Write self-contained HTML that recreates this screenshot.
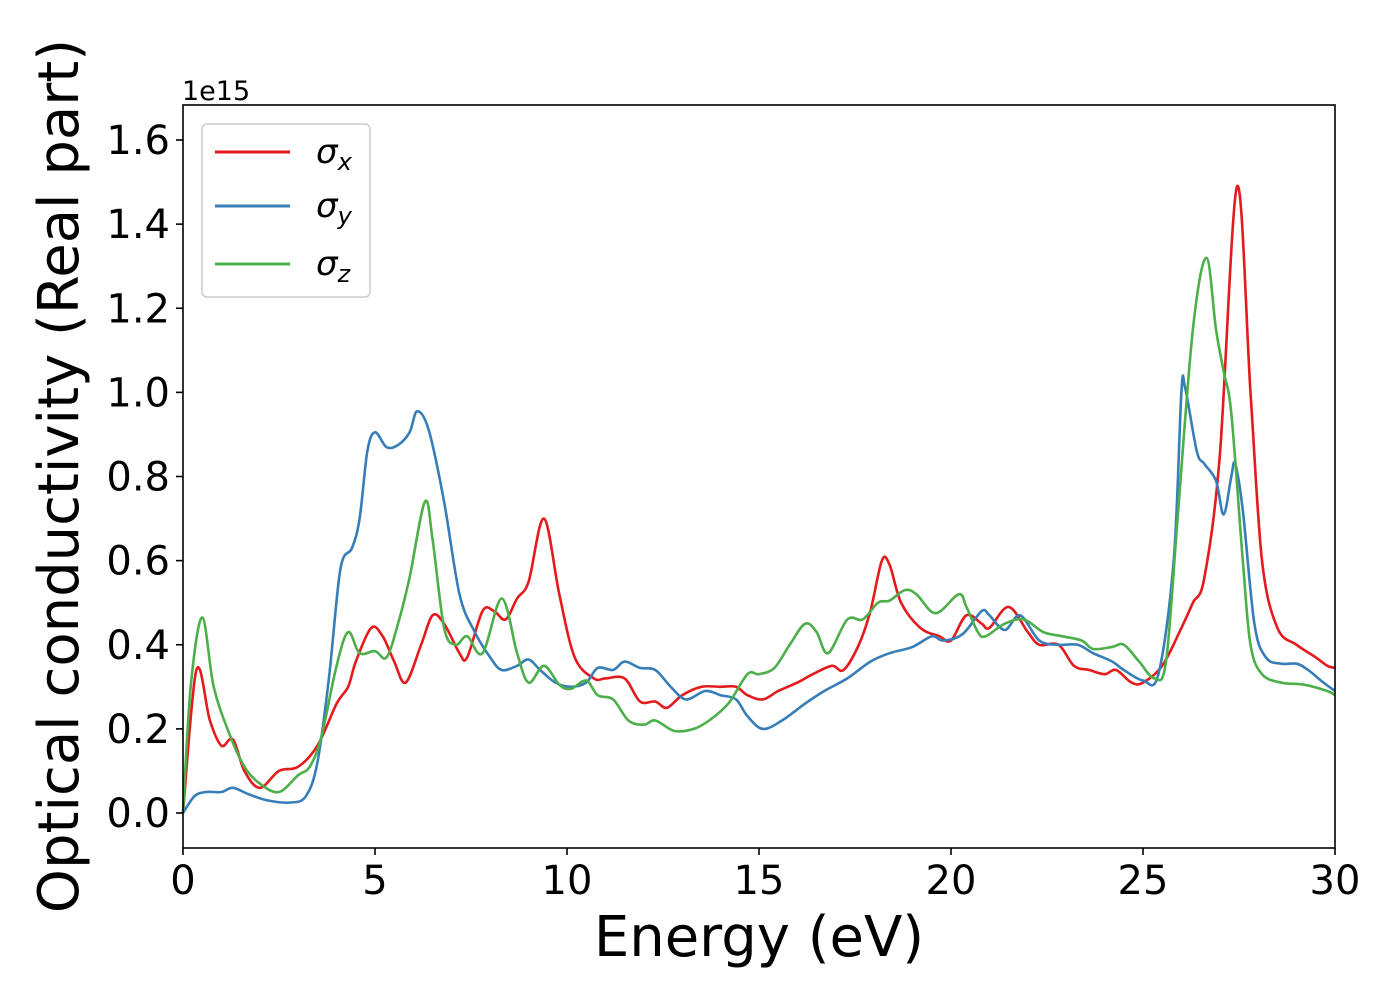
<!DOCTYPE html>
<html><head><meta charset="utf-8"><style>
html,body{margin:0;padding:0;background:#fff;}
svg text{font-family:"DejaVu Sans","Liberation Sans",sans-serif;fill:#000;}
</style></head><body>
<svg id="chart" width="1400" height="1000" viewBox="0 0 1400 1000" xmlns="http://www.w3.org/2000/svg">
<rect x="0" y="0" width="1400" height="1000" fill="#fff"/>
<g id="plot"></g>
<rect x="183" y="105" width="1152" height="743" fill="none" stroke="#000" stroke-width="1.6"/>
<g id="xticks"></g><g id="yticks"></g>
<text x="182" y="100" font-size="27">1e15</text>
<text x="759" y="956" font-size="56" text-anchor="middle">Energy (eV)</text>
<text transform="translate(78,476) rotate(-90)" font-size="56" text-anchor="middle">Optical conductivity (Real part)</text>
<g>
<rect x="202" y="124" width="168" height="173" rx="5" fill="#fff" fill-opacity="0.8" stroke="#ccc" stroke-width="1.5"/>
<g><line x1="215" y1="152" x2="290" y2="152" stroke="#e41a1c" stroke-width="3"/><text x="316" y="163" font-size="34" font-style="italic">σ<tspan font-size="24" dy="7">x</tspan></text></g>
<g><line x1="215" y1="206" x2="290" y2="206" stroke="#377eb8" stroke-width="3"/><text x="316" y="217" font-size="34" font-style="italic">σ<tspan font-size="24" dy="7">y</tspan></text></g>
<g><line x1="215" y1="264" x2="290" y2="264" stroke="#4daf4a" stroke-width="3"/><text x="316" y="275" font-size="34" font-style="italic">σ<tspan font-size="24" dy="7">z</tspan></text></g>
</g>
</svg>
<script>
const xTicks=[0,5,10,15,20,25,30];
const yTicks=[0.0,0.2,0.4,0.6,0.8,1.0,1.2,1.4,1.6];
const sxE=[0,0.35,0.7,1.0,1.3,1.6,2.0,2.5,3.0,3.5,4.0,4.3,4.5,4.9,5.2,5.5,5.8,6.2,6.5,6.8,7.2,7.4,7.8,8.1,8.4,8.7,9.0,9.4,9.8,10.2,10.7,11.0,11.5,11.9,12.3,12.6,13.0,13.5,14.0,14.4,14.7,15.1,15.5,16.0,16.4,16.9,17.2,17.6,17.9,18.2,18.4,18.7,19.2,19.7,20.0,20.4,20.8,21.0,21.5,22.0,22.3,22.8,23.2,23.6,24.0,24.3,24.7,25.0,25.5,26.0,26.3,26.6,27.0,27.45,27.8,28.1,28.5,29.0,29.5,29.8,30];
const sxV=[0,0.34,0.22,0.16,0.175,0.1,0.06,0.1,0.11,0.16,0.26,0.30,0.36,0.44,0.42,0.36,0.31,0.40,0.47,0.45,0.38,0.37,0.48,0.48,0.46,0.51,0.55,0.70,0.52,0.37,0.32,0.32,0.32,0.265,0.265,0.25,0.28,0.30,0.30,0.30,0.28,0.27,0.29,0.31,0.33,0.35,0.34,0.40,0.48,0.60,0.59,0.50,0.44,0.42,0.41,0.47,0.45,0.44,0.49,0.43,0.40,0.40,0.35,0.34,0.33,0.34,0.31,0.31,0.35,0.44,0.50,0.56,0.85,1.49,1.0,0.6,0.44,0.40,0.37,0.35,0.345];
const syE=[0,0.3,0.6,1.0,1.3,1.7,2.2,2.8,3.2,3.5,3.8,4.1,4.4,4.6,4.8,5.0,5.3,5.6,5.9,6.1,6.4,6.8,7.2,7.6,8.0,8.3,8.7,9.0,9.3,9.7,10.1,10.5,10.8,11.2,11.5,11.9,12.3,12.7,13.1,13.6,14.0,14.4,14.7,15.1,15.6,16.2,16.7,17.3,17.9,18.4,19.0,19.5,19.8,20.3,20.8,21.0,21.4,21.8,22.3,22.8,23.3,23.7,24.2,24.5,25.0,25.4,25.8,26.0,26.1,26.4,26.6,26.9,27.1,27.3,27.4,27.6,27.9,28.2,28.6,29.0,29.3,29.7,30];
const syV=[0,0.04,0.05,0.05,0.06,0.045,0.03,0.025,0.04,0.12,0.32,0.58,0.63,0.70,0.86,0.905,0.87,0.875,0.905,0.955,0.91,0.74,0.52,0.43,0.37,0.34,0.35,0.365,0.34,0.31,0.30,0.31,0.345,0.34,0.36,0.345,0.34,0.30,0.27,0.29,0.28,0.27,0.23,0.20,0.22,0.26,0.29,0.32,0.36,0.38,0.395,0.42,0.41,0.425,0.48,0.47,0.435,0.47,0.41,0.40,0.40,0.38,0.36,0.34,0.315,0.33,0.60,1.0,1.01,0.86,0.83,0.79,0.71,0.80,0.83,0.72,0.45,0.37,0.355,0.355,0.34,0.31,0.29];
const szE=[0,0.2,0.5,0.8,1.2,1.6,2.0,2.5,3.0,3.3,3.6,4.0,4.3,4.6,5.0,5.3,5.6,5.9,6.3,6.5,6.8,7.1,7.4,7.8,8.3,8.7,9.0,9.4,9.8,10.1,10.5,10.8,11.2,11.6,12.0,12.3,12.8,13.3,13.7,14.2,14.7,15.0,15.4,15.8,16.2,16.5,16.8,17.3,17.7,18.1,18.4,18.8,19.1,19.6,20.2,20.4,20.7,20.9,21.4,21.9,22.4,22.9,23.4,23.7,24.2,24.5,24.9,25.3,25.6,25.9,26.3,26.65,26.9,27.1,27.3,27.6,27.8,28.1,28.6,29.2,29.8,30];
const szV=[0,0.3,0.465,0.30,0.19,0.11,0.07,0.05,0.09,0.11,0.18,0.35,0.43,0.38,0.385,0.37,0.45,0.56,0.74,0.65,0.44,0.40,0.42,0.38,0.51,0.38,0.31,0.35,0.305,0.295,0.315,0.28,0.27,0.22,0.21,0.22,0.195,0.20,0.22,0.26,0.33,0.33,0.345,0.40,0.45,0.43,0.38,0.46,0.46,0.50,0.505,0.53,0.52,0.475,0.52,0.49,0.43,0.42,0.45,0.46,0.43,0.42,0.41,0.39,0.395,0.40,0.36,0.32,0.36,0.70,1.15,1.32,1.15,1.05,0.95,0.60,0.40,0.33,0.31,0.305,0.29,0.28];

const NS='http://www.w3.org/2000/svg';
const X0=183,X1=1335,XMIN=0,XMAX=30;
const Y0px=813,Y16px=140;
function xs(e){return X0+(e-XMIN)/(XMAX-XMIN)*(X1-X0);}
function ys(v){return Y0px+(v/1.6)*(Y16px-Y0px);}
function pathFor(E,V){
  const p=E.map((e,i)=>[xs(e),ys(V[i])]);
  let d='M'+p[0][0].toFixed(1)+','+p[0][1].toFixed(1);
  for(let i=0;i<p.length-1;i++){
    const a=p[Math.max(0,i-1)],b=p[i],c=p[i+1],n=p[Math.min(p.length-1,i+2)];
    const t=6;
    d+=' C'+(b[0]+(c[0]-a[0])/t).toFixed(1)+','+(b[1]+(c[1]-a[1])/t).toFixed(1)+' '+(c[0]-(n[0]-b[0])/t).toFixed(1)+','+(c[1]-(n[1]-b[1])/t).toFixed(1)+' '+c[0].toFixed(1)+','+c[1].toFixed(1);
  }
  return d;
}
const plot=document.getElementById('plot');
const series=[['sigma-x-line',sxE,sxV,'#e41a1c'],['sigma-y-line',syE,syV,'#377eb8'],['sigma-z-line',szE,szV,'#4daf4a']];
series.forEach(s=>{
  const el=document.createElementNS(NS,'path');
  
  
  el.setAttribute('d',pathFor(s[1],s[2]));
  el.setAttribute('fill','none');el.setAttribute('stroke',s[3]);el.setAttribute('stroke-width','2.6');
  plot.appendChild(el);
});
const xg=document.getElementById('xticks');
xTicks.forEach(t=>{
  const l=document.createElementNS(NS,'line');
  
  
  l.setAttribute('x1',xs(t));l.setAttribute('x2',xs(t));l.setAttribute('y1',848);l.setAttribute('y2',855);l.setAttribute('stroke','#000');l.setAttribute('stroke-width','1.6');
  xg.appendChild(l);
  const tx=document.createElementNS(NS,'text');
  
  
  tx.setAttribute('x',xs(t));tx.setAttribute('y',894);tx.setAttribute('font-size','40');tx.setAttribute('text-anchor','middle');
  tx.textContent=String(t);xg.appendChild(tx);
});
const yg=document.getElementById('yticks');
yTicks.forEach(t=>{
  const l=document.createElementNS(NS,'line');
  
  
  l.setAttribute('x1',176);l.setAttribute('x2',183);l.setAttribute('y1',ys(t));l.setAttribute('y2',ys(t));l.setAttribute('stroke','#000');l.setAttribute('stroke-width','1.6');
  yg.appendChild(l);
  const tx=document.createElementNS(NS,'text');
  
  
  tx.setAttribute('x',170);tx.setAttribute('y',ys(t)+14);tx.setAttribute('font-size','40');tx.setAttribute('text-anchor','end');
  tx.textContent=t.toFixed(1);yg.appendChild(tx);
});
</script>
</body></html>
